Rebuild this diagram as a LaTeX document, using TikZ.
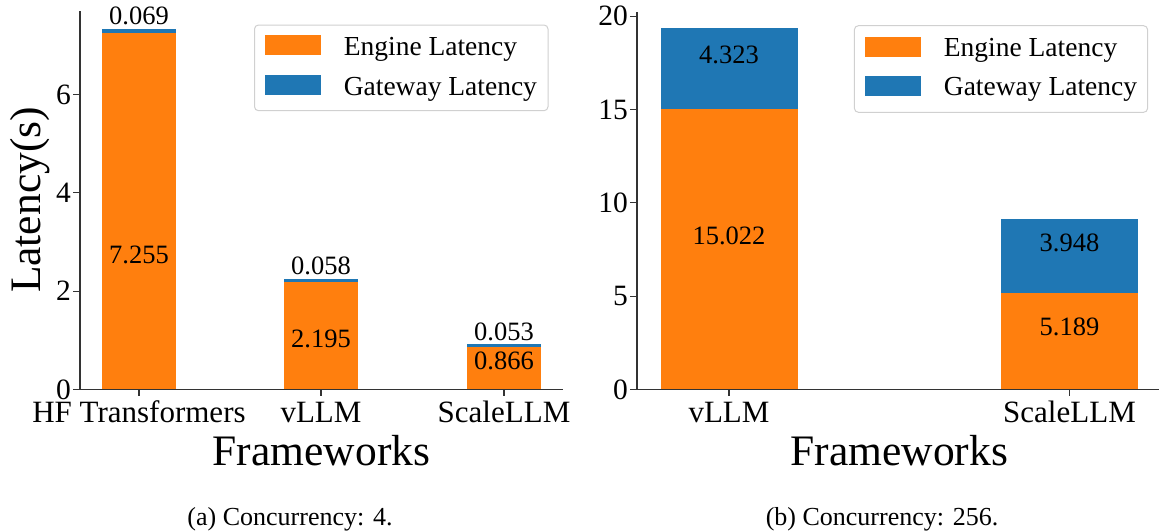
\documentclass[tikz,border=0pt]{standalone}
\usepackage{fontspec}
\setmainfont{Liberation Serif}
\definecolor{eng}{HTML}{FF7F0E}
\definecolor{gw}{HTML}{1F77B4}
\definecolor{spinec}{HTML}{333333}
\definecolor{legedge}{HTML}{D0D0D0}
\tikzset{
  ticklab/.style={font=\fontsize{31}{36}\selectfont, inner sep=0pt},
  yticklab/.style={font=\fontsize{29.5}{34}\selectfont, inner sep=0pt, anchor=east},
  vallab/.style={font=\fontsize{26.5}{30}\selectfont, inner sep=0pt},
  leglab/.style={font=\fontsize{27.5}{32}\selectfont, inner sep=0pt, anchor=base west},
  axlab/.style={font=\fontsize{43.5}{50}\selectfont, inner sep=0pt},
  caplab/.style={font=\fontsize{26}{30}\selectfont, inner sep=0pt, anchor=base},
  spine/.style={draw=spinec, line width=1.3pt},
  tickmark/.style={draw=spinec, line width=1.1pt},
  legbox/.style={draw=legedge, fill=white, line width=1pt, rounded corners=4pt},
}
\begin{document}
\begin{tikzpicture}[x=1pt,y=-1pt]
\useasboundingbox (0,0) rectangle (1159,531);
% ---------------- left panel ----------------
\def\za{389.4}\def\ka{49.15}
% bars
\fill[eng] (102,\za) rectangle (176,{\za-\ka*7.255});
\fill[gw]  (102,{\za-\ka*7.255}) rectangle (176,{\za-\ka*7.324});
\fill[eng] (284,\za) rectangle (358,{\za-\ka*2.195});
\fill[gw]  (284,{\za-\ka*2.195}) rectangle (358,{\za-\ka*2.253});
\fill[eng] (467,\za) rectangle (541,{\za-\ka*0.866});
\fill[gw]  (467,{\za-\ka*0.866}) rectangle (541,{\za-\ka*0.919});
% value labels
\node[vallab] (a1) at (139,16) {0.069};
\node[vallab] (a2) at (139,255) {7.255};
\node[vallab] (a3) at (321,266) {0.058};
\node[vallab] (a4) at (321,339) {2.195};
\node[vallab] (a5) at (504,331.5) {0.053};
\node[vallab] (a6) at (504,361) {0.866};
% axes
\draw[spine] (80,11) -- (80,\za) -- (562.5,\za);
\foreach \v/\n in {0/ya0,2/ya2,4/ya4,6/ya6}{
  \draw[tickmark] (73,{\za-\ka*\v}) -- (80,{\za-\ka*\v});
  \node[yticklab] (\n) at (71,{\za-\ka*\v}) {\v};
}
\foreach \x in {139,321,504}{\draw[tickmark] (\x,\za) -- (\x,\za+7);}
\node[ticklab, anchor=base] (xa1) at (139,422) {HF Transformers};
\node[ticklab, anchor=base] (xa2) at (321,422) {vLLM};
\node[ticklab, anchor=base] (xa3) at (504,422) {ScaleLLM};
\node[axlab, anchor=base] (fa) at (321.5,465) {Frameworks};
\node[axlab, rotate=90] (la) at (29.8,200) {Latency(s)};
% legend
\draw[legbox] (254.5,25) rectangle (548,110.7);
\fill[eng] (265,35) rectangle (320.7,55);
\fill[gw]  (265,75) rectangle (320.7,95);
\node[leglab] (lga1) at (343.6,55) {Engine Latency};
\node[leglab] (lga2) at (343.6,95) {Gateway Latency};
\node[caplab] (ca) at (290,525) {(a) Concurrency: 4.};
% ---------------- right panel ----------------
\def\zb{389.4}\def\kb{18.66}
\fill[eng] (660.5,\zb) rectangle (798,{\zb-\kb*15.022});
\fill[gw]  (660.5,{\zb-\kb*15.022}) rectangle (798,{\zb-\kb*19.345});
\fill[eng] (1001,\zb) rectangle (1137.5,{\zb-\kb*5.189});
\fill[gw]  (1001,{\zb-\kb*5.189}) rectangle (1137.5,{\zb-\kb*9.137});
\node[vallab] (b1) at (729,54.5) {4.323};
\node[vallab] (b2) at (729,235.5) {15.022};
\node[vallab] (b3) at (1069.5,242.5) {3.948};
\node[vallab] (b4) at (1069.5,327) {5.189};
\draw[spine] (637,12) -- (637,\zb) -- (1159,\zb);
\foreach \v/\n in {0/yb0,5/yb5,10/yb10,15/yb15,20/yb20}{
  \draw[tickmark] (630,{\zb-\kb*\v}) -- (637,{\zb-\kb*\v});
  \node[yticklab] (\n) at (628,{\zb-\kb*\v}) {\v};
}
\foreach \x in {729,1069.5}{\draw[tickmark] (\x,\zb) -- (\x,\zb+7);}
\node[ticklab, anchor=base] (xb1) at (729,422) {vLLM};
\node[ticklab, anchor=base] (xb2) at (1069.5,422) {ScaleLLM};
\node[axlab, anchor=base] (fb) at (899.4,465) {Frameworks};
\draw[legbox] (854.4,25.7) rectangle (1147.6,112.3);
\fill[eng] (865,37.3) rectangle (920.5,56.7);
\fill[gw]  (865,76) rectangle (920.5,96);
\node[leglab] (lgb1) at (943.7,56) {Engine Latency};
\node[leglab] (lgb2) at (943.7,95) {Gateway Latency};
\node[caplab] (cb) at (882,525) {(b) Concurrency: 256.};
\end{tikzpicture}
\end{document}
